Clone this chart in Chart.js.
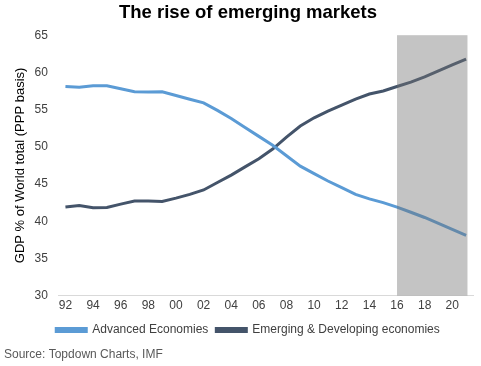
<!DOCTYPE html>
<html>
<head>
<meta charset="utf-8">
<script src="https://cdn.jsdelivr.net/npm/chart.js@4/dist/chart.umd.min.js"></script>
<style>
html,body{margin:0;padding:0;background:#fff;}
#wrap{width:481px;height:366px;position:relative;}
</style>
</head>
<body>
<div id="wrap"><canvas id="c" width="481" height="366"></canvas></div>
<script>
const years = [1992,1993,1994,1995,1996,1997,1998,1999,2000,2001,2002,2003,2004,2005,2006,2007,2008,2009,2010,2011,2012,2013,2014,2015,2016,2017,2018,2019,2020,2021];
const advanced = [58.1,58.0,58.2,58.2,57.8,57.4,57.35,57.4,56.9,56.4,55.9,54.9,53.8,52.6,51.4,50.2,48.8,47.4,46.4,45.4,44.5,43.6,43.0,42.5,41.9,41.2,40.5,39.7,38.9,38.1];
const emerging = [41.9,42.1,41.8,41.85,42.3,42.7,42.7,42.65,43.1,43.6,44.2,45.2,46.2,47.3,48.4,49.7,51.3,52.8,53.9,54.8,55.6,56.4,57.1,57.5,58.1,58.7,59.4,60.2,61.0,61.8];
const tickYears = [1992,1994,1996,1998,2000,2002,2004,2006,2008,2010,2012,2014,2016,2018,2020];
const shadeRange = [2016, 2021.1];
const seriesNames = ['Advanced Economies','Emerging & Developing economies'];
const sourceText = 'Source: Topdown Charts, IMF';

const shadePlugin = {
  id:'shade',
  afterDatasetsDraw(chart){
    const {ctx, chartArea, scales} = chart;
    const x0 = scales.x.getPixelForValue(shadeRange[0]);
    const x1 = scales.x.getPixelForValue(shadeRange[1]);
    ctx.save();
    ctx.fillStyle = 'rgba(115,115,115,0.42)';
    ctx.fillRect(x0, chartArea.top, x1 - x0, chartArea.bottom - chartArea.top);
    ctx.restore();
  },
  afterDraw(chart){
    const ctx = chart.ctx;
    ctx.save();
    ctx.font = '12px "Liberation Sans", Arial, sans-serif';
    ctx.fillStyle = '#595959';
    ctx.textBaseline = 'middle';
    ctx.textAlign = 'left';
    ctx.fillText(sourceText, 4, 355);
    ctx.restore();
  }
};

new Chart(document.getElementById('c'), {
  type:'line',
  data:{
    datasets:[
      {label:seriesNames[0], data:years.map((y,i)=>({x:y,y:advanced[i]})), borderColor:'#5B9BD5', backgroundColor:'#5B9BD5', borderWidth:3, pointRadius:0, tension:0},
      {label:seriesNames[1], data:years.map((y,i)=>({x:y,y:emerging[i]})), borderColor:'#44546A', backgroundColor:'#44546A', borderWidth:3, pointRadius:0, tension:0}
    ]
  },
  options:{
    responsive:false,
    animation:false,
    layout:{padding:{left:23,right:8,top:0,bottom:20}},
    plugins:{
      title:{display:true,text:'The rise of emerging markets',color:'#000',font:{family:'Liberation Sans, Arial',size:18.5,weight:'bold'},padding:{top:2,bottom:11}},
      legend:{position:'bottom',labels:{boxWidth:30,boxHeight:3,color:'#404040',font:{family:'Liberation Sans, Arial',size:12},padding:8}},
      tooltip:{enabled:false}
    },
    scales:{
      x:{type:'linear',min:1991.53,max:2021.5,
        grid:{display:false,drawTicks:false},
        border:{display:true,color:'#d9d9d9',width:1},
        afterBuildTicks(axis){axis.ticks = tickYears.map(v=>({value:v}));},
        ticks:{autoSkip:false,maxRotation:0,padding:3,color:'#404040',font:{family:'Liberation Sans, Arial',size:12},callback:(v)=>String(v%100).padStart(2,'0')}
      },
      y:{min:30,max:65,
        grid:{display:false,drawTicks:false},
        border:{display:false},
        ticks:{stepSize:5,padding:11,color:'#404040',font:{family:'Liberation Sans, Arial',size:12}},
        title:{display:true,text:'GDP % of World total (PPP basis)',color:'#000',font:{family:'Liberation Sans, Arial',size:13},padding:{top:-10,bottom:-5}}
      }
    }
  },
  plugins:[shadePlugin]
});
</script>
</body>
</html>
